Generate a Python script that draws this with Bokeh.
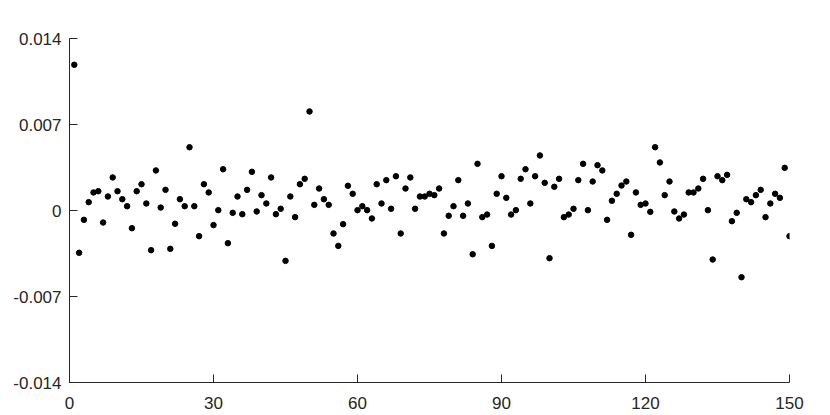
from bokeh.plotting import figure
from bokeh.models import Range1d, FixedTicker
from bokeh.embed import file_html
from bokeh.resources import INLINE

x_index = list(range(1, 151))
residuals = [
    0.01186, -0.00344, -0.00076, 0.00068, 0.00147, 0.00157, -0.00098, 0.00114, 0.00269, 0.00157,
    0.00092, 0.00035, -0.00144, 0.00157, 0.00214, 0.00057, -0.00323, 0.00326, 0.00024, 0.00168,
    -0.00312, -0.00108, 0.00092, 0.00035, 0.00515, 0.00035, -0.00209, 0.00214, 0.00147, -0.00119,
    0.00003, 0.00336, -0.00266, -0.00019, 0.00114, -0.00030, 0.00168, 0.00315, -0.00008, 0.00125,
    0.00057, 0.00269, -0.00030, 0.00014, -0.00410, 0.00114, -0.00054, 0.00214, 0.00258, 0.00806,
    0.00046, 0.00179, 0.00092, 0.00046, -0.00187, -0.00288, -0.00111, 0.00201, 0.00136, 0.00003,
    0.00035, 0.00003, -0.00065, 0.00214, 0.00057, 0.00247, 0.00014, 0.00279, -0.00187, 0.00179,
    0.00269, 0.00014, 0.00114, 0.00114, 0.00136, 0.00125, 0.00179, -0.00187, -0.00043, 0.00035,
    0.00247, -0.00043, 0.00057, -0.00356, 0.00380, -0.00054, -0.00033, -0.00288, 0.00136, 0.00279,
    0.00103, -0.00033, 0.00003, 0.00258, 0.00336, 0.00057, 0.00279, 0.00448, 0.00225, -0.00388,
    0.00193, 0.00258, -0.00054, -0.00033, 0.00014, 0.00247, 0.00380, 0.00003, 0.00236, 0.00369,
    0.00326, -0.00076, 0.00079, 0.00136, 0.00203, 0.00236, -0.00198, 0.00147, 0.00046, 0.00057,
    -0.00011, 0.00515, 0.00391, 0.00125, 0.00236, -0.00008, -0.00065, -0.00033, 0.00147, 0.00147,
    0.00179, 0.00258, 0.00003, -0.00399, 0.00279, 0.00247, 0.00290, -0.00087, -0.00019, -0.00543,
    0.00092, 0.00068, 0.00125, 0.00168, -0.00054, 0.00057, 0.00136, 0.00103, 0.00347, -0.00209,
]

x_ticks = [0, 30, 60, 90, 120, 150]
y_ticks = [-0.014, -0.007, 0, 0.007, 0.014]
y_tick_labels = ["-0.014", "-0.007", "0", "0.007", "0.014"]

p = figure(width=830, height=415, output_backend="svg", toolbar_location=None,
           x_range=Range1d(0, 150), y_range=Range1d(-0.014, 0.014),
           min_border_left=69, min_border_right=41, min_border_top=38, min_border_bottom=33)
p.outline_line_color = None
p.xgrid.visible = False
p.ygrid.visible = False

p.scatter(x_index, residuals, size=5.5, color="black", line_color="black")

axis_color = "#262626"
for ax in (p.xaxis[0], p.yaxis[0]):
    ax.axis_line_color = axis_color
    ax.major_tick_line_color = axis_color
    ax.major_tick_in = 8
    ax.major_tick_out = 0
    ax.minor_tick_line_color = None
    ax.major_label_text_font = "Liberation Sans"
    ax.major_label_text_font_size = "17px"
    ax.major_label_text_color = axis_color

p.xaxis.ticker = FixedTicker(ticks=x_ticks)
p.yaxis.ticker = FixedTicker(ticks=y_ticks)
p.yaxis.major_label_overrides = {t: l for t, l in zip(y_ticks, y_tick_labels)}
p.xaxis.major_label_standoff = 14
p.yaxis.major_label_standoff = 8

html = file_html(p, INLINE)
open("out.html", "w").write(html)
